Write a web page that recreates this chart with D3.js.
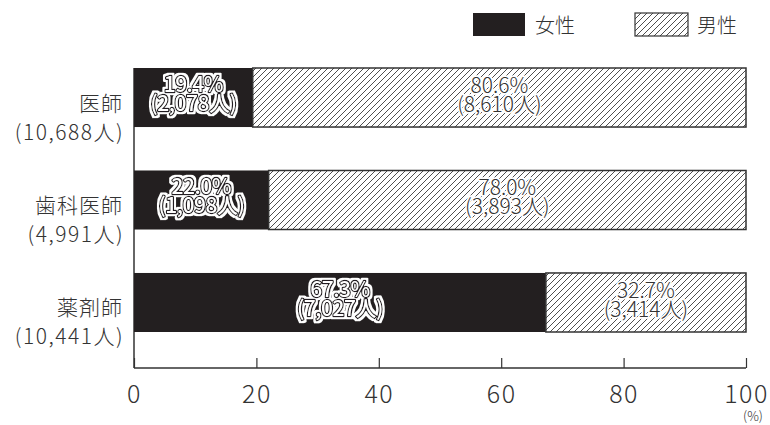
<!DOCTYPE html>
<html><head><meta charset="utf-8">
<script src="https://cdn.jsdelivr.net/npm/d3@7"></script>
<style>body{margin:0;background:#fff}svg{display:block}text{font-family:"Noto Sans CJK JP","Noto Sans",sans-serif}</style>
</head><body><svg id="c" width="770" height="425"></svg>
<script>
const categories = ["医師","歯科医師","薬剤師"];
const totals = ["10,688","4,991","10,441"];
const femalePct = [19.4, 22.0, 67.3];
const malePct = [80.6, 78.0, 32.7];
const femaleCount = ["2,078","1,098","7,027"];
const maleCount = ["8,610","3,893","3,414"];
const ticks = [0,20,40,60,80,100];
const seriesNames = ["女性","男性"];

const svg = d3.select("#c");
const defs = svg.append("defs");
const pat = defs.append("pattern").attr("id","hatch").attr("patternUnits","userSpaceOnUse")
  .attr("width",6).attr("height",6);
pat.append("rect").attr("width",6).attr("height",6).attr("fill","#fff");
pat.append("path").attr("d","M-1,1 l2,-2 M0,6 l6,-6 M5,7 l2,-2").attr("stroke","#222").attr("stroke-width",0.8);

// white halo filter
const flt = defs.append("filter").attr("id","halo").attr("x","-10%").attr("y","-20%").attr("width","120%").attr("height","140%");
flt.append("feMorphology").attr("in","SourceAlpha").attr("operator","dilate").attr("radius",1.6).attr("result","d");
flt.append("feFlood").attr("flood-color","#fff").attr("result","w");
flt.append("feComposite").attr("in","w").attr("in2","d").attr("operator","in").attr("result","h");
const fm = flt.append("feMerge");
fm.append("feMergeNode").attr("in","h");
fm.append("feMergeNode").attr("in","SourceGraphic");

const x = d3.scaleLinear().domain([0,100]).range([134,746]);
const y = d3.scaleBand().domain(categories).range([68,332]).paddingInner(0.424).paddingOuter(0);

const ink = "#333";
const fs = (sel, s) => sel.style("font-size", s + "px");
// axis
const axisG = svg.append("g").attr("transform","translate(0,368)")
  .call(d3.axisBottom(x).tickValues(ticks).tickSize(-10).tickPadding(17).tickFormat(d3.format("d")));
axisG.select(".domain").attr("stroke",ink).attr("stroke-width",1.5).attr("d",`M${x(0)},0H${x(100)}`);
axisG.selectAll(".tick line").attr("stroke",ink).attr("stroke-width",1.2);
fs(axisG.selectAll(".tick text").attr("fill",ink).attr("letter-spacing",1.5).style("font-weight",300), 25);
svg.append("line").attr("x1",x(0)).attr("x2",x(0)).attr("y1",y(categories[0])).attr("y2",368).attr("stroke",ink).attr("stroke-width",1.5);
fs(svg.append("text").attr("x",x(100)+7).attr("y",421).attr("text-anchor","middle").attr("fill",ink).style("font-weight",300).text("(%)"), 13);

const bh = y.bandwidth();
function twoLine(xc, y0, lines, dyFirst) {
  const t = svg.append("text").attr("text-anchor","middle");
  t.append("tspan").attr("x",xc).attr("y",y0+dyFirst).text(lines[0]);
  t.append("tspan").attr("x",xc).attr("y",y0+dyFirst+19).text(lines[1]);
  return fs(t, 21);
}
categories.forEach((c,i)=>{
  const y0 = y(c), cy = y0+bh/2;
  svg.append("rect").attr("x",x(0)).attr("y",y0).attr("width",x(femalePct[i])-x(0)).attr("height",bh).attr("fill","#231f20");
  svg.append("rect").attr("x",x(femalePct[i])).attr("y",y0).attr("width",x(100)-x(femalePct[i])).attr("height",bh)
    .attr("fill","url(#hatch)").attr("stroke",ink).attr("stroke-width",1.5);
  // category label
  const cl = svg.append("text").attr("text-anchor","end").attr("fill",ink).style("font-weight",300);
  cl.append("tspan").attr("x",123).attr("y",cy+13).attr("letter-spacing",1).text(c);
  cl.append("tspan").attr("x",124).attr("y",cy+42).attr("letter-spacing",1.5).text(`(${totals[i]}人)`);
  fs(cl, 21);
  // female labels: white fill, thin dark outline, white halo
  const fx = (x(0)+x(femalePct[i]))/2;
  twoLine(fx, y0, [femalePct[i].toFixed(1)+"%", `(${femaleCount[i]}人)`], 24)
    .attr("letter-spacing",-0.5).style("font-weight",500).attr("fill","#fff").attr("stroke","#231f20").attr("stroke-width",2.4)
    .attr("paint-order","stroke").attr("stroke-linejoin","round").attr("filter","url(#halo)");
  // male labels
  const mx = (x(femalePct[i])+x(100))/2;
  twoLine(mx, y0, [malePct[i].toFixed(1)+"%", `(${maleCount[i]}人)`], 25)
    .attr("fill",ink).attr("stroke","#fff").attr("stroke-width",3.5).attr("paint-order","stroke").attr("stroke-linejoin","round").style("font-weight",300);
});

// legend
const lg = svg.append("g");
lg.append("rect").attr("x",473).attr("y",13).attr("width",52).attr("height",23).attr("fill","#231f20");
fs(lg.append("text").attr("x",535).attr("y",33).attr("fill",ink).style("font-weight",300).text(seriesNames[0]), 20);
lg.append("rect").attr("x",635).attr("y",13).attr("width",53).attr("height",23).attr("fill","url(#hatch)").attr("stroke",ink).attr("stroke-width",1.2);
fs(lg.append("text").attr("x",697).attr("y",33).attr("fill",ink).style("font-weight",300).text(seriesNames[1]), 20);
</script></body></html>
